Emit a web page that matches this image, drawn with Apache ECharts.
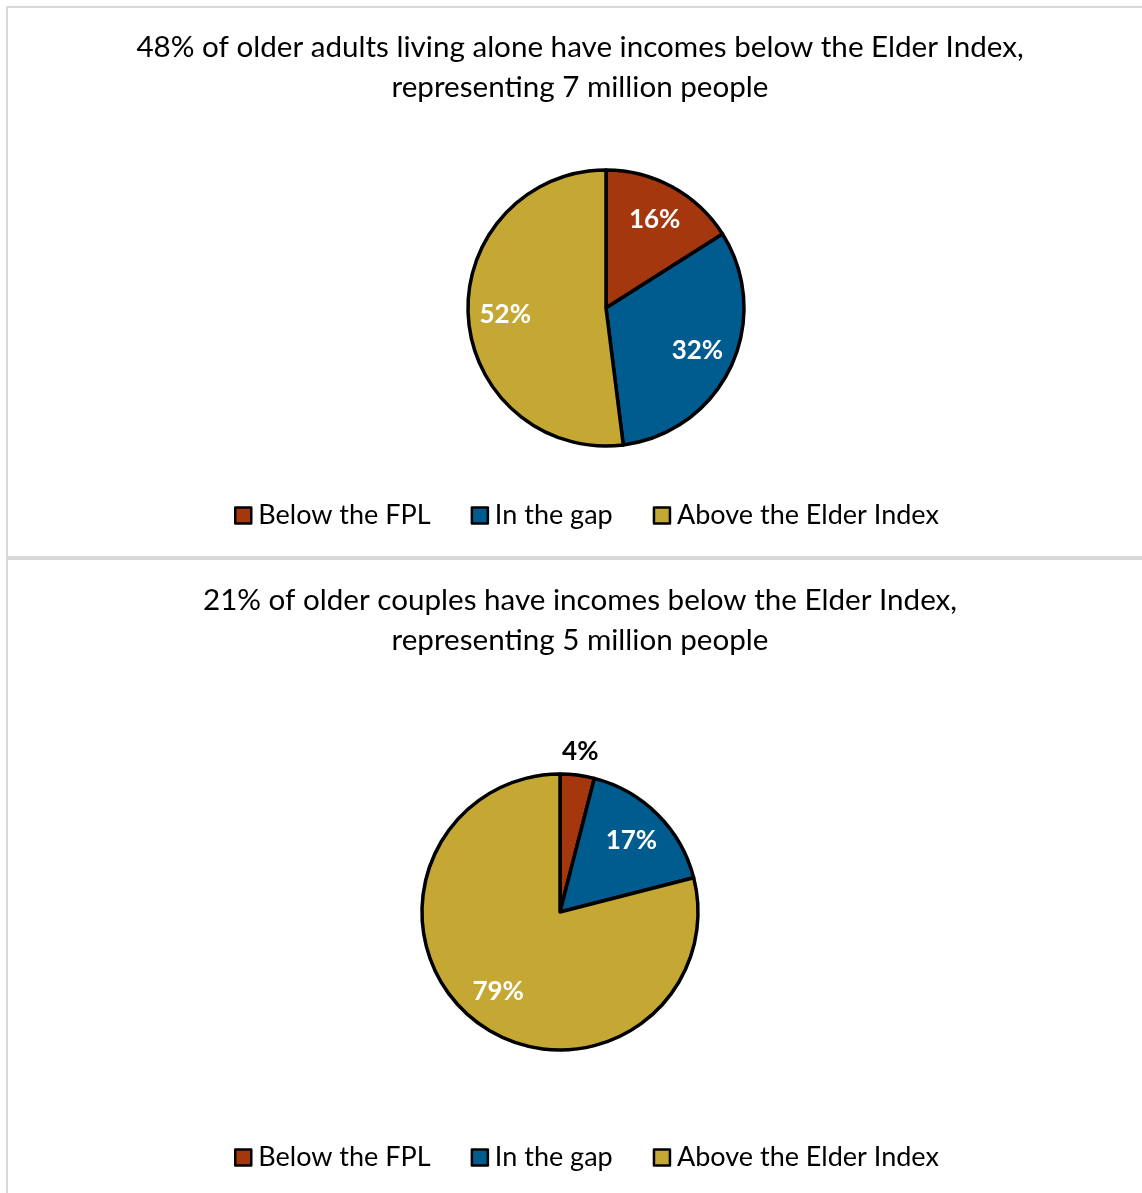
<!DOCTYPE html>
<html>
<head>
<meta charset="utf-8">
<script src="https://cdn.jsdelivr.net/npm/echarts@6/dist/echarts.min.js"></script>
<style>
  html, body { margin: 0; padding: 0; background: #fff; }
  #chart { width: 1142px; height: 1193px; }
</style>
</head>
<body>
<div id="chart"></div>
<script>
const categories = ['Below the FPL', 'In the gap', 'Above the Elder Index'];
const aloneValues = [16, 32, 52];
const couplesValues = [4, 17, 79];
const aloneTitle = '48% of older adults living alone have incomes below the Elder Index,\nrepresenting 7 million people';
const couplesTitle = '21% of older couples have incomes below the Elder Index,\nrepresenting 5 million people';
// labels drawn outside the slice (black) in the couples chart
const couplesOutsideLabels = ['Below the FPL'];

const colors = ['#A5370E', '#005B8E', '#C5A833'];
const FONT = 'Lato';
const R = 138;

function mainPie(values, center) {
  return {
    type: 'pie', center: center, radius: [0, R], startAngle: 90, clockwise: true,
    silent: true, animation: false,
    label: { show: false }, labelLine: { show: false },
    itemStyle: { borderColor: '#000', borderWidth: 3.5 },
    data: categories.map((c, i) => ({ name: c, value: values[i], itemStyle: { color: colors[i] } }))
  };
}
function labelPie(values, center, radius, showFn, color) {
  return {
    type: 'pie', center: center, radius: [0, radius], startAngle: 90, clockwise: true,
    silent: true, animation: false, z: 5,
    itemStyle: { color: 'rgba(0,0,0,0)', borderWidth: 0 },
    labelLine: { show: false },
    data: categories.map((c, i) => ({
      name: c, value: values[i],
      itemStyle: { color: 'rgba(0,0,0,0)' },
      label: {
        show: showFn(c), position: 'inside', formatter: '{c}%',
        color: color, fontFamily: FONT, fontWeight: 'bold', fontSize: 26
      }
    }))
  };
}
function legend(top) {
  return {
    top: top, left: 229, orient: 'horizontal',
    selectedMode: false, itemWidth: 16, itemHeight: 16, itemGap: 40,
    textStyle: { fontFamily: FONT, fontSize: 27, color: '#000', padding: [0, 0, 0, 2] },
    data: categories.map((c, i) => ({
      name: c, icon: 'rect',
      itemStyle: { color: colors[i], borderColor: '#000', borderWidth: 2.5 }
    }))
  };
}

const c1 = [606, 308], c2 = [560, 912];
const titleStyle = { fontFamily: FONT, fontWeight: 'normal', fontSize: 29.6, lineHeight: 40, color: '#000' };
const option = {
  backgroundColor: '#fff',
  animation: false,
  graphic: [
    { type: 'rect', shape: { x: 7, y: 7, width: 1200, height: 550 }, style: { fill: 'none', stroke: '#D9D9D9', lineWidth: 2 }, silent: true },
    { type: 'rect', shape: { x: 7, y: 559, width: 1200, height: 700 }, style: { fill: 'none', stroke: '#D9D9D9', lineWidth: 2 }, silent: true }
  ],
  title: [
    { text: aloneTitle, left: 575, top: 22, textAlign: 'center', textStyle: titleStyle },
    { text: couplesTitle, left: 575, top: 575, textAlign: 'center', textStyle: titleStyle }
  ],
  legend: [legend(497), legend(1139)],
  series: [
    mainPie(aloneValues, c1),
    mainPie(couplesValues, c2),
    labelPie(aloneValues, c1, R * 1.42, () => true, '#fff'),
    labelPie(couplesValues, c2, R * 1.42, c => !couplesOutsideLabels.includes(c), '#fff'),
    labelPie(couplesValues, c2, R * 2.3, c => couplesOutsideLabels.includes(c), '#000')
  ]
};
const chart = echarts.init(document.getElementById('chart'), null, { renderer: 'canvas' });
chart.setOption(option);
</script>
</body>
</html>
